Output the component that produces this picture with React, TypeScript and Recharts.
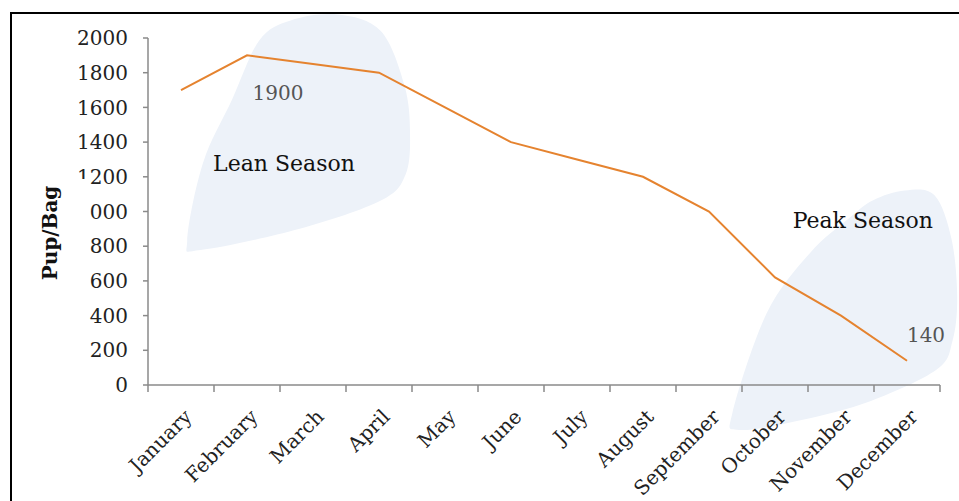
import React from 'react';
import { LineChart, Line, XAxis, YAxis, ReferenceArea, ReferenceDot, LabelList } from 'recharts';

// Monthly price (pups per bag)
const months = [
  'January', 'February', 'March', 'April', 'May', 'June',
  'July', 'August', 'September', 'October', 'November', 'December',
];
const pupPerBag = [1700, 1900, 1850, 1800, 1600, 1400, 1300, 1200, 1000, 620, 400, 140];
const yTicks = [0, 200, 400, 600, 800, 1000, 1200, 1400, 1600, 1800, 2000];
const labelledMonths = ['February', 'December'];
const seasonNames = ['Lean Season', 'Peak Season'];
const yAxisTitle = 'Pup/Bag';

const data = months.map((month, i) => ({ month, pos: i + 0.5, price: pupPerBag[i] }));
// tick positions: band edges (tick marks) and band centres (month names)
const xTicks = [...months.flatMap((_, i) => [i, i + 0.5]), months.length];

const FONT = '"DejaVu Serif", Georgia, serif';
const AXIS = '#8a8a8a';
const LINE = '#e5832f';
const BLOB = '#edf2f9';

// Season highlight regions (data coordinates) and their captions
const seasonLayout = [
  {
    x1: 0.56, x2: 3.97, y1: 2135, y2: 778, textX: 2.06, textY: 1233,
    outline: [
      [0.01, 0.96], [0.08, 0.63], [0.21, 0.36], [0.33, 0.11], [0.47, 0.025], [0.68, 0],
      [0.87, 0.07], [0.975, 0.3], [1, 0.5], [0.98, 0.68], [0.87, 0.79], [0.51, 0.91], [0.07, 1],
    ],
  },
  {
    x1: 8.82, x2: 12.26, y1: 1135, y2: -259, textX: 10.83, textY: 905,
    outline: [
      [0.63, 0.05], [0.77, 0.01], [0.9, 0.03], [0.975, 0.21], [1, 0.45], [0.98, 0.63],
      [0.91, 0.75], [0.62, 0.88], [0.31, 0.96], [0.04, 1], [0.01, 0.93], [0.16, 0.52],
      [0.35, 0.27], [0.53, 0.12],
    ],
  },
];

const valueLabelOffset: Record<string, [number, number]> = {
  February: [31, 45],
  December: [19, -19],
};

function closedSmoothPath(pts: number[][]) {
  const n = pts.length;
  const f = (p: number[]) => `${p[0].toFixed(1)},${p[1].toFixed(1)}`;
  let d = `M${f(pts[0])}`;
  for (let i = 0; i < n; i++) {
    const p0 = pts[(i - 1 + n) % n];
    const p1 = pts[i];
    const p2 = pts[(i + 1) % n];
    const p3 = pts[(i + 2) % n];
    const c1 = [p1[0] + (p2[0] - p0[0]) / 6, p1[1] + (p2[1] - p0[1]) / 6];
    const c2 = [p2[0] - (p3[0] - p1[0]) / 6, p2[1] - (p3[1] - p1[1]) / 6];
    d += ` C${f(c1)} ${f(c2)} ${f(p2)}`;
  }
  return d + 'Z';
}

const makeBlob = (outline: number[][]) => (props: any) => {
  const { x, y, width, height } = props;
  const pts = outline.map(([u, v]) => [x + u * width, y + v * height]);
  return <path d={closedSmoothPath(pts)} fill={BLOB} stroke="none" />;
};

const makeCaption = (text: string) => (props: any) => (
  <text x={props.cx} y={props.cy} textAnchor="middle" fontFamily={FONT} fontSize={22} fill="#111">
    {text}
  </text>
);

const XTick = (props: any) => {
  const { x, y, payload } = props;
  const v = payload.value as number;
  if (Number.isInteger(v)) {
    return <line x1={x} y1={y} x2={x} y2={y + 7} stroke={AXIS} strokeWidth={1.5} />;
  }
  const tx = x + 12;
  const ty = y + 33;
  return (
    <text
      x={tx}
      y={ty}
      transform={`rotate(-45 ${tx} ${ty})`}
      textAnchor="end"
      fontFamily={FONT}
      fontSize={20}
      fill="#222"
    >
      {months[Math.floor(v)]}
    </text>
  );
};

const ValueLabel = (props: any) => {
  const { x, y, value, index } = props;
  const m = months[index];
  if (!labelledMonths.includes(m)) return null;
  const [dx, dy] = valueLabelOffset[m] || [0, -10];
  return (
    <text x={x + dx} y={y + dy} textAnchor="middle" fontFamily={FONT} fontSize={20} fill="#555">
      {value}
    </text>
  );
};

// Axis title sits on a white box that overlaps the tick labels beside it
function AxisTitle() {
  return (
    <svg
      width={100}
      height={501}
      style={{ position: 'absolute', left: 0, top: 0, pointerEvents: 'none' }}
    >
      <rect x={26} y={179} width={62} height={84} fill="#fff" />
      <text
        x={50}
        y={233}
        transform="rotate(-90 50 233)"
        textAnchor="middle"
        dominantBaseline="central"
        fontFamily={FONT}
        fontWeight="bold"
        fontSize={20}
        fill="#111"
      >
        {yAxisTitle}
      </text>
    </svg>
  );
}

export default function App() {
  return (
    <div
      style={{
        position: 'absolute',
        left: 0,
        top: 0,
        width: 959,
        height: 501,
        overflow: 'hidden',
        background: '#fff',
      }}
    >
      <div
        style={{
          position: 'absolute',
          left: 10,
          top: 12,
          width: 1000,
          height: 600,
          border: '2px solid #000',
        }}
      />
      <div style={{ position: 'absolute', left: 0, top: 0 }}>
        <LineChart width={959} height={501} data={data} margin={{ top: 38, right: 19, bottom: 0, left: 0 }}>
          {seasonLayout.map((s, i) => (
            <ReferenceArea
              key={`area-${i}`}
              x1={s.x1}
              x2={s.x2}
              y1={s.y1}
              y2={s.y2}
              ifOverflow="visible"
              shape={makeBlob(s.outline)}
            />
          ))}
          <XAxis
            dataKey="pos"
            type="number"
            domain={[0, months.length]}
            ticks={xTicks}
            interval={0}
            tickLine={false}
            tickSize={0}
            tickMargin={0}
            height={116}
            axisLine={{ stroke: AXIS, strokeWidth: 1.5 }}
            tick={<XTick />}
          />
          <YAxis
            domain={[0, 2000]}
            ticks={yTicks}
            interval={0}
            width={148}
            tickSize={5}
            tickMargin={15}
            axisLine={{ stroke: AXIS, strokeWidth: 1.5 }}
            tickLine={{ stroke: AXIS, strokeWidth: 1.5 }}
            tick={{ fontFamily: FONT, fontSize: 20, fill: '#222' }}
          />
          <Line
            type="linear"
            dataKey="price"
            stroke={LINE}
            strokeWidth={2}
            dot={false}
            activeDot={false}
            isAnimationActive={false}
          >
            <LabelList dataKey="price" content={<ValueLabel />} />
          </Line>
          {seasonLayout.map((s, i) => (
            <ReferenceDot
              key={`cap-${i}`}
              x={s.textX}
              y={s.textY}
              r={0}
              ifOverflow="visible"
              shape={makeCaption(seasonNames[i])}
            />
          ))}
        </LineChart>
      </div>
      <AxisTitle />
    </div>
  );
}
